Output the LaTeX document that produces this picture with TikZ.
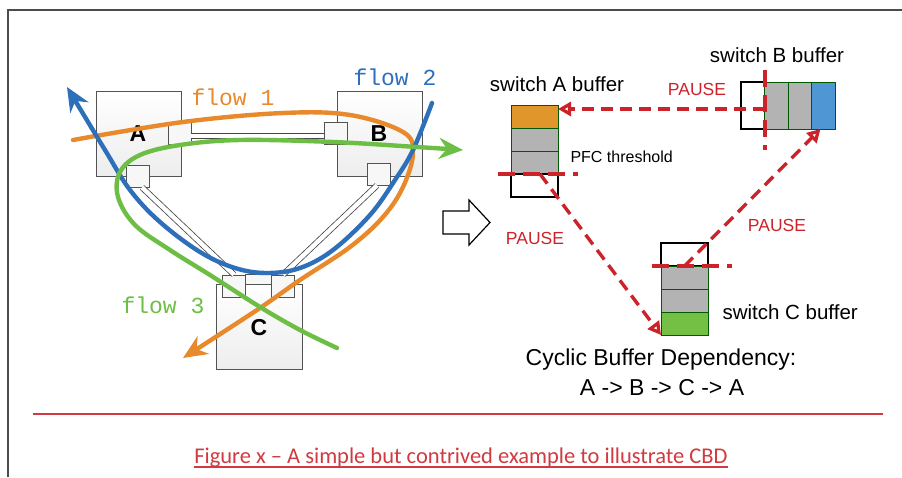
\documentclass[tikz,border=0pt]{standalone}
\usepackage{fontspec}
\setmainfont{Liberation Sans}
\newfontfamily\monofam{Liberation Mono}
\newfontfamily\captionfam{Carlito}
\usetikzlibrary{arrows.meta}
\usetikzlibrary{positioning}
\definecolor{flowone}{HTML}{E8892C}
\definecolor{flowtwo}{HTML}{2E6FBA}
\definecolor{flowthree}{HTML}{6CBE45}
\definecolor{pausered}{HTML}{CC232B}
\definecolor{capred}{HTML}{D03A40}
\definecolor{cellgray}{HTML}{B3B3B3}
\definecolor{cellorange}{HTML}{E0962A}
\definecolor{cellblue}{HTML}{4E96D4}
\definecolor{cellgreen}{HTML}{74C044}
\tikzset{
	switchbox/.style={draw=gray!65!black, line width=0.8pt, top color=white, bottom color=gray!14, minimum width=85pt, minimum height=85pt, inner sep=0pt},
	portbox/.style={draw=gray!65!black, line width=0.8pt, fill=gray!6, minimum width=23pt, minimum height=22pt, inner sep=0pt},
	cable/.style={draw=gray!55!black, line width=0.8pt, double=white, double distance=4.5pt},
	flow/.style={line width=4.4pt, line cap=round, -{Stealth[length=24pt,width=21pt]}},
	flowlabel/.style={font=\monofam\fontsize{23}{26}\selectfont},
	swlabel/.style={font=\bfseries\fontsize{23}{26}\selectfont},
	vcell/.style={draw=green!35!black, line width=0.8pt, minimum width=47pt, minimum height=23pt, inner sep=0pt, outer sep=0pt},
	hcell/.style={draw=green!35!black, line width=0.8pt, minimum width=23.5pt, minimum height=47pt, inner sep=0pt, outer sep=0pt},
	freecell/.style={draw=black, line width=1.8pt, fill=white},
	pause/.style={draw=pausered, line width=3.4pt, dash pattern=on 12pt off 7pt, -{Triangle[open,length=13pt,width=14pt]}},
	threshold/.style={draw=pausered, line width=3.8pt, dash pattern=on 17pt off 8pt},
	pauselabel/.style={text=pausered, font=\fontsize{17.5}{20}\selectfont},
	buflabel/.style={font=\fontsize{20.5}{24}\selectfont}
}
\begin{document}
\begin{tikzpicture}[x=1pt,y=-1pt]
	\useasboundingbox (0,0) rectangle (902,477);
	\draw[gray!60!black, line width=1.2pt] (8,477) -- (8,10) -- (902,10);

	\node[switchbox] (swA) at (138.5,133.5) {};
	\node[switchbox] (swB) at (379.5,133.5) {};
	\node[switchbox, minimum width=86pt] (swC) at (259,326.5) {};
	\node[portbox] (pAr) at (179.5,133) {};
	\node[portbox] (pAs) at (138,176) {};
	\node[portbox] (pBl) at (335.5,133) {};
	\node[portbox] (pBs) at (379,174) {};
	\node[portbox] (pCl) at (234,286) {};
	\node[portbox] (pCr) at (283,286) {};
	\node[portbox, minimum width=26pt, minimum height=10pt] (pCm) at (258,279) {};
	\draw[cable] ([yshift=-3pt]pAr.east) -- ([yshift=-3pt]pBl.west);
	\draw[cable] ([xshift=4pt]pAs.south) -- (pCl.north);
	\draw[cable] ([xshift=-2pt]pBs.south) -- (pCr.north);
	\node[swlabel] (labA) at (138,134) {A};
	\node[swlabel] (labB) at (379,134) {B};
	\node[swlabel] (labC) at (259,328) {C};

	\draw[flow, flowone] plot[smooth, tension=0.6] coordinates {(73,140) (183,122) (283,113) (350,115) (403,132) (413,153) (403,187) (383,217) (350,247) (300,280) (257,310) (183,358)};
	\draw[flow, flowtwo] plot[smooth, tension=0.6] coordinates {(432,103) (413,150) (395,180) (370,215) (333,250) (300,268) (267,273) (235,268) (200,252) (160,222) (130,190) (105,150) (67,87)};
	\draw[flow, flowthree] plot[smooth, tension=0.6] coordinates {(337,348) (300,330) (260,307) (210,275) (170,250) (135,225) (118,197) (120,172) (140,155) (180,145) (240,140) (333,142) (417,147) (463,150)};
	\node[flowlabel, text=flowone] (f1) at (233,97) {flow 1};
	\node[flowlabel, text=flowtwo] (f2) at (395,77) {flow 2};
	\node[flowlabel, text=flowthree] (f3) at (163,305) {flow 3};

	\draw[line width=1.2pt, fill=white] (443,211) -- (469,211) -- (469,200) -- (490,222.5) -- (469,245) -- (469,234) -- (443,234) -- cycle;

	\node[vcell, fill=cellorange] (a1) at (534.5,116.5) {};
	\node[vcell, fill=cellgray, below=0pt of a1] (a2) {};
	\node[vcell, fill=cellgray, below=0pt of a2] (a3) {};
	\node[vcell, freecell, below=0pt of a3] (a4) {};
	\node[hcell, freecell] (b1) at (753,105.5) {};
	\node[hcell, fill=cellgray, right=0pt of b1] (b2) {};
	\node[hcell, fill=cellgray, right=0pt of b2] (b3) {};
	\node[hcell, fill=cellblue, right=0pt of b3] (b4) {};
	\node[vcell, freecell] (c1) at (684.5,254.5) {};
	\node[vcell, fill=cellgray, below=0pt of c1] (c2) {};
	\node[vcell, fill=cellgray, below=0pt of c2] (c3) {};
	\node[vcell, fill=cellgreen, below=0pt of c3] (c4) {};

	\draw[threshold] ([xshift=-13pt]a4.north west) -- ([xshift=20pt]a4.north east);
	\draw[threshold] ([yshift=12pt]b1.north east) -- ([yshift=-21pt]b1.south east);
	\draw[threshold] ([xshift=-9pt]c1.south west) -- ([xshift=24pt]c1.south east);

	\draw[pause] ([yshift=-3.5pt]b1.east) -- ([yshift=7.5pt]a1.east);
	\draw[pause] ([xshift=5.5pt]a4.north) -- (c4.south west);
	\draw[pause] (c1.south) -- ([xshift=-3pt]b4.south);

	\node[pauselabel] (pa) at (697,89) {PAUSE};
	\node[pauselabel] (pb) at (535,238) {PAUSE};
	\node[pauselabel] (pc) at (777,225) {PAUSE};
	\node[buflabel] (labbufA) at (557,84) {switch A buffer};
	\node[buflabel] (labbufB) at (777,55) {switch B buffer};
	\node[buflabel, right=11pt of c4.north east] (labbufC) {switch C buffer};
	\node[anchor=west, font=\fontsize{16}{19}\selectfont] (pfc) at (567,157) {PFC threshold};
	\node[font=\fontsize{23}{27}\selectfont] (cbd) at (661,360) {Cyclic Buffer Dependency:};
	\node[font=\fontsize{23}{27}\selectfont] (loop) at (662,388) {A -> B -> C -> A};

	\draw[capred, line width=2pt] (33,414) -- (883,414);
	\node[font=\captionfam\fontsize{22.5}{26}\selectfont, text=capred, inner sep=0pt, anchor=base] (cap) at (461,463) {Figure x – A simple but contrived example to illustrate CBD};
	\draw[capred, line width=1.4pt] ([yshift=-4pt]cap.base west) -- ([yshift=-4pt]cap.base east);
\end{tikzpicture}
\end{document}
